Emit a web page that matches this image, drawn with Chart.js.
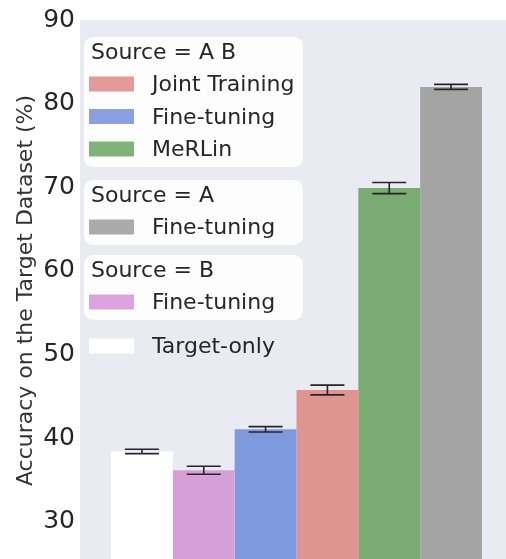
<!DOCTYPE html>
<html>
<head>
<meta charset="utf-8">
<script src="https://cdn.jsdelivr.net/npm/chart.js@4.4.1/dist/chart.umd.min.js"></script>
<style>
  html, body { margin: 0; padding: 0; background: #fff; }
  #wrap { width: 506px; height: 559px; overflow: hidden; }
  canvas { display: block; }
</style>
</head>
<body>
<div id="wrap"><canvas id="chart" width="520" height="581"></canvas></div>
<script>
// bars, left to right
const methods = ['Target-only', 'Fine-tuning', 'Fine-tuning', 'Joint Training', 'MeRLin', 'Fine-tuning'];
const sources = ['', 'B', 'A B', 'A B', 'A B', 'A'];
const accuracy = [38.4, 36.15, 41.05, 45.75, 69.9, 82.0];
const errors = [0.26, 0.48, 0.32, 0.58, 0.66, 0.3];
const yTicks = [30, 40, 50, 60, 70, 80, 90];

const barColors = ['#ffffff', '#d69fd8', '#7f99df', '#e09491', '#7aab73', '#a4a4a5'];
const legendColors = ['#ffffff', '#dda3de', '#8aa0e3', '#e49a98', '#80b37a', '#aaaaaa'];

const textColor = '#262626';
const fontFamily = '"DejaVu Sans", sans-serif';

// legend groups: title + which bars (by index) are listed
const legendGroups = [
  { title: 'Source = A B', items: [3, 2, 4], top: 37 },
  { title: 'Source = A', items: [5], top: 180 },
  { title: 'Source = B', items: [1], top: 255 }
];

const datasets = methods.map((m, i) => ({
  label: sources[i] ? m + ' (' + sources[i] + ')' : m,
  data: [accuracy[i]],
  backgroundColor: barColors[i],
  borderWidth: 0
}));

// gray plot background
const plotBg = {
  id: 'plotBg',
  beforeDraw(chart) {
    const { ctx, chartArea } = chart;
    ctx.save();
    ctx.fillStyle = '#eaeaf2';
    ctx.fillRect(chartArea.left, chartArea.top, chartArea.right - chartArea.left, chartArea.bottom - chartArea.top);
    ctx.restore();
  }
};

// error bars with caps
const errorBars = {
  id: 'errorBars',
  afterDatasetsDraw(chart) {
    const { ctx } = chart;
    const y = chart.scales.y;
    ctx.save();
    ctx.strokeStyle = textColor;
    ctx.lineWidth = 1.6;
    chart.data.datasets.forEach((ds, i) => {
      const bar = chart.getDatasetMeta(i).data[0];
      const hi = y.getPixelForValue(accuracy[i] + errors[i]);
      const lo = y.getPixelForValue(accuracy[i] - errors[i]);
      const cap = 17;
      ctx.beginPath();
      ctx.moveTo(bar.x, hi); ctx.lineTo(bar.x, lo);
      ctx.moveTo(bar.x - cap, hi); ctx.lineTo(bar.x + cap, hi);
      ctx.moveTo(bar.x - cap, lo); ctx.lineTo(bar.x + cap, lo);
      ctx.stroke();
    });
    ctx.restore();
  }
};

function roundRect(ctx, x, y, w, h, r) {
  ctx.beginPath();
  ctx.moveTo(x + r, y);
  ctx.arcTo(x + w, y, x + w, y + h, r);
  ctx.arcTo(x + w, y + h, x, y + h, r);
  ctx.arcTo(x, y + h, x, y, r);
  ctx.arcTo(x, y, x + w, y, r);
  ctx.closePath();
}

// grouped legend boxes drawn by hand
const groupLegend = {
  id: 'groupLegend',
  afterDraw(chart) {
    const { ctx } = chart;
    const left = 84, width = 219, rowH = 32.5;
    ctx.save();
    ctx.font = '22px ' + fontFamily;
    ctx.textBaseline = 'middle';
    const drawRow = (idx, cy) => {
      ctx.fillStyle = legendColors[idx];
      ctx.fillRect(89, cy - 7.5, 45, 15);
      ctx.fillStyle = textColor;
      ctx.fillText(methods[idx], 152, cy + 1.5);
    };
    legendGroups.forEach(g => {
      const lastRow = g.top + 47 + rowH * (g.items.length - 1);
      ctx.fillStyle = 'rgba(255,255,255,0.9)';
      roundRect(ctx, left, g.top, width, lastRow + 18 - g.top, 9);
      ctx.fill();
      ctx.fillStyle = textColor;
      ctx.fillText(g.title, 91, g.top + 16.5);
      g.items.forEach((idx, k) => drawRow(idx, g.top + 47 + rowH * k));
    });
    drawRow(0, 346);
    ctx.restore();
  }
};

new Chart(document.getElementById('chart'), {
  type: 'bar',
  data: { labels: [''], datasets: datasets },
  options: {
    responsive: false,
    animation: false,
    devicePixelRatio: 1,
    layout: { padding: { top: 19, right: 7, bottom: 1, left: 0 } },
    datasets: { bar: { categoryPercentage: 0.8568, barPercentage: 1 } },
    plugins: { legend: { display: false }, tooltip: { enabled: false } },
    scales: {
      x: { display: false },
      y: {
        min: 25.3,
        max: 90,
        afterBuildTicks: scale => { scale.ticks = yTicks.map(v => ({ value: v })); },
        afterFit: scale => { scale.width = 80; },
        grid: { display: false, drawTicks: false },
        border: { display: false },
        ticks: { color: textColor, padding: 5, font: { family: fontFamily, size: 25 } },
        title: {
          display: true,
          text: 'Accuracy on the Target Dataset (%)',
          color: '#333333',
          padding: { top: 13, bottom: 0 },
          font: { family: fontFamily, size: 22 }
        }
      }
    }
  },
  plugins: [plotBg, errorBars, groupLegend]
});
</script>
</body>
</html>
